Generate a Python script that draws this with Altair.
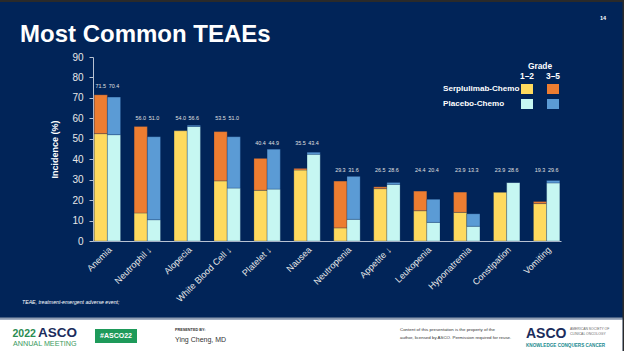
import altair as alt
import pandas as pd

# ---------------- data ----------------
categories = ["Anemia", "Neutrophil \u2193", "Alopecia", "White Blood Cell \u2193", "Platelet \u2193",
              "Nausea", "Neutropenia", "Appetite \u2193", "Leukopenia", "Hyponatremia",
              "Constipation", "Vomiting"]
serp_total = [71.5, 56.0, 54.0, 53.5, 40.4, 35.5, 29.3, 26.5, 24.4, 23.9, 23.9, 19.3]
serp_g12 = [52.5, 13.7, 54.0, 29.4, 24.8, 34.7, 6.4, 25.6, 14.8, 14.0, 23.9, 18.3]
plac_total = [70.4, 51.0, 56.6, 51.0, 44.9, 43.4, 31.6, 28.6, 20.4, 13.3, 28.6, 29.6]
plac_g12 = [52.0, 10.4, 56.0, 25.9, 25.4, 42.4, 10.6, 27.7, 9.1, 7.2, 28.6, 28.4]
label_level = [75.7, 60.1, 60.1, 60.1, 47.8, 47.8, 34.7, 34.7, 34.7, 34.7, 34.7, 34.7]
y_ticks = [0, 10, 20, 30, 40, 50, 60, 70, 80, 90]

arms = ["Serplulimab-Chemo", "Placebo-Chemo"]
keys = ["S 1-2", "S 3-5", "P 1-2", "P 3-5"]
colors = ["#FFDA5E", "#ED7D31", "#C6F7F2", "#5B9BD5"]

rows, lab_rows = [], []
for i, c in enumerate(categories):
    for arm, tot, g12, k in ((arms[0], serp_total, serp_g12, "S"), (arms[1], plac_total, plac_g12, "P")):
        rows.append({"cat": c, "arm": arm, "grade": 1, "key": k + " 1-2", "value": g12[i]})
        rows.append({"cat": c, "arm": arm, "grade": 2, "key": k + " 3-5", "value": round(tot[i] - g12[i], 2)})
        lab_rows.append({"cat": c, "arm": arm, "total": tot[i], "level": label_level[i]})
df = pd.DataFrame(rows)
lab_df = pd.DataFrame(lab_rows)

# ---------------- layout ----------------
L, T, W, H = 93, 57, 468, 184
PAGE_W, PAGE_H = 624, 351
NAVY = "#012458"
FONT = "Liberation Sans"

x_enc = alt.X("cat:N", sort=categories, title=None,
              scale=alt.Scale(paddingInner=0.34, paddingOuter=0.03),
              axis=alt.Axis(labelAngle=-45, labelFontSize=9, labelColor="#E8E8E8", labelFont=FONT,
                            ticks=False, domainColor="#B8C2D2", labelPadding=4))
xo_enc = alt.XOffset("arm:N", sort=arms, scale=alt.Scale(paddingInner=0, paddingOuter=0))
y_scale = alt.Scale(domain=[0, 90], nice=False)
y_axis = alt.Axis(values=y_ticks, grid=False, tickSize=4, tickColor="#B8C2D2", domainColor="#B8C2D2",
                  labelFontSize=10, labelColor="#E8E8E8", labelFont=FONT, labelPadding=6,
                  title="Incidence (%)", titleFontSize=9, titleFont=FONT, titleColor="white",
                  titleFontWeight="bold", titlePadding=12)

bars = alt.Chart(df).mark_bar(stroke=NAVY, strokeWidth=0.4, strokeOpacity=0.6).encode(
    x=x_enc, xOffset=xo_enc,
    y=alt.Y("value:Q", stack="zero", scale=y_scale, axis=y_axis),
    color=alt.Color("key:N", scale=alt.Scale(domain=keys, range=colors), legend=None),
    order=alt.Order("grade:Q", sort="ascending"),
)

labels = alt.Chart(lab_df).mark_text(fontSize=5.4, color="#E0E0E0", font=FONT, baseline="middle").encode(
    x=alt.X("cat:N", sort=categories), xOffset=xo_enc,
    y=alt.Y("level:Q", scale=y_scale, axis=y_axis),
    text=alt.Text("total:Q", format=".1f"),
)

one = pd.DataFrame({"d": [0]})


def txt(text, x, y, size, color="white", weight="normal", align="left", baseline="middle",
        style="normal", font=FONT):
    return alt.Chart(one).mark_text(text=text, fontSize=size, color=color, fontWeight=weight,
                                    align=align, baseline=baseline, fontStyle=style, font=font).encode(
        x=alt.value(x - L), y=alt.value(y - T))


def box(x1, y1, x2, y2, color):
    return alt.Chart(one).mark_rect(color=color).encode(
        x=alt.value(x1 - L), x2=alt.value(x2 - L), y=alt.value(y1 - T), y2=alt.value(y2 - T))


decor = [
    box(0, 0, PAGE_W, 2, "#2A2A2A"),
    box(622.5, 0, PAGE_W, PAGE_H, "#2A2A2A"),
    box(0, 317.5, 622.5, 319.5, "#8C9AB0"),
    box(0, 319.5, 622.5, PAGE_H, "white"),
    txt("Most Common TEAEs", 20, 42, 24, weight="bold", baseline="alphabetic"),
    txt("14", 603, 18, 5.5, weight="bold", align="center"),
    txt("TEAE, treatment-emergent adverse event;", 22, 302, 5.2, style="italic"),
    # legend
    txt("Grade", 540, 66, 8.4, weight="bold", align="center"),
    txt("1\u20132", 527, 76, 8.4, weight="bold", align="center"),
    txt("3\u20135", 553, 76, 8.4, weight="bold", align="center"),
    txt("Serplulimab-Chemo", 443, 89, 8.1, weight="bold"),
    txt("Placebo-Chemo", 443, 104, 8.1, weight="bold"),
    box(521, 84, 533, 94, colors[0]),
    box(547, 84, 559, 94, colors[1]),
    box(521, 99, 533, 109, colors[2]),
    box(547, 99, 559, 109, colors[3]),
    # footer
    txt("2022", 12.5, 337, 10.5, color="#2A8C52", weight="bold", baseline="alphabetic"),
    txt("ASCO", 38, 337, 13.5, color="#1B2C5C", weight="bold", baseline="alphabetic"),
    txt("ANNUAL MEETING", 13, 344, 7.2, color="#3A9A5E"),
    box(95, 329, 137, 343, "#1E9A5A"),
    txt("#ASCO22", 116, 336, 7, weight="bold", align="center"),
    txt("PRESENTED BY:", 175, 329.5, 3.8, color="#333333", weight="bold"),
    txt("Ying Cheng, MD", 175, 339.5, 7, color="#333333"),
    txt("Content of this presentation is the property of the", 400, 329.5, 4.4, color="#333333"),
    txt("author, licensed by ASCO. Permission required for reuse.", 400, 338, 4.4, color="#333333"),
    txt("ASCO", 526, 338, 14, color="#1B2C5C", weight="bold", baseline="alphabetic"),
    txt("AMERICAN SOCIETY OF", 570, 329, 3.4, color="#666666"),
    txt("CLINICAL ONCOLOGY", 570, 334, 3.4, color="#666666"),
    txt("KNOWLEDGE CONQUERS CANCER", 526, 346, 4.6, color="#1B8A8F", weight="bold"),
]

chart = alt.layer(bars, labels, *decor).properties(
    width=W, height=H,
    padding={"left": L, "top": T, "right": PAGE_W - L - W, "bottom": PAGE_H - T - H},
    autosize=alt.AutoSizeParams(type="none"),
    background=NAVY,
).configure_view(stroke=None)

chart.save("out.html", embed_options={"renderer": "svg", "actions": False})
